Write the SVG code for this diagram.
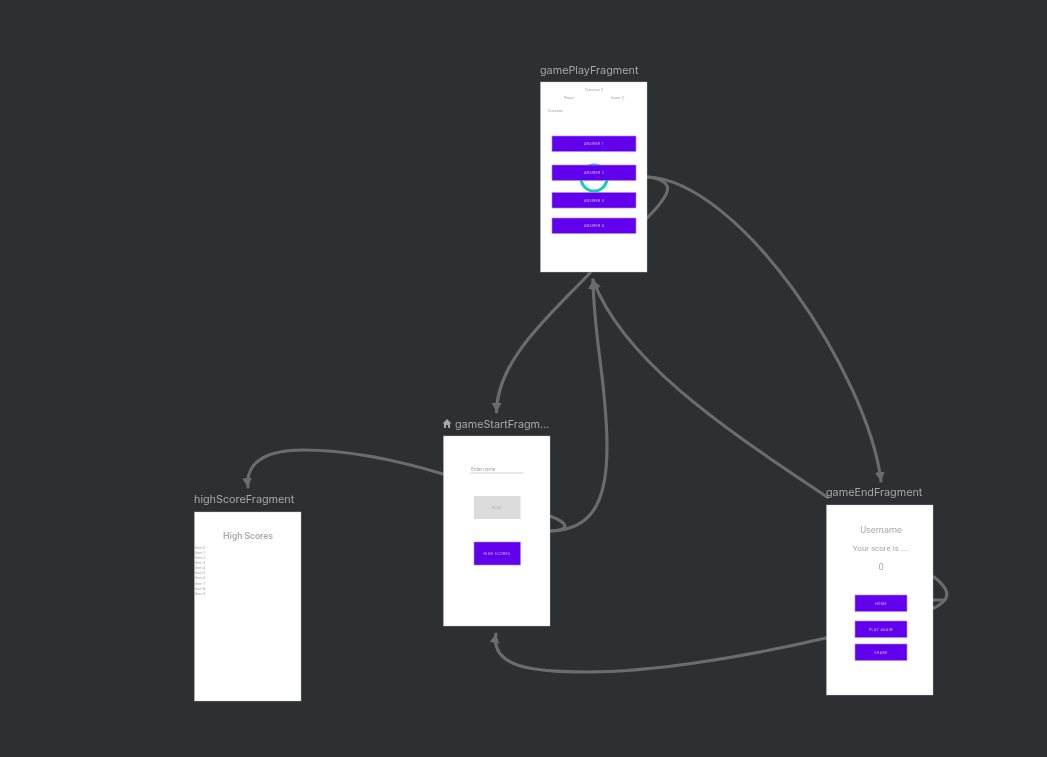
<svg xmlns="http://www.w3.org/2000/svg" width="1047" height="757" viewBox="0 0 1047 757">
<style>
.lbl{font:10.8px Inter,"Liberation Sans",sans-serif;fill:#a6a6a6}
.scr{fill:#fff;stroke:#c4c4c4;stroke-width:.4}
.btn{fill:#6200ee;stroke:#a78bf5;stroke-width:.6}
.bt{font:3.5px Roboto,"Liberation Sans",sans-serif;fill:#cfc0f8;text-anchor:middle;letter-spacing:.45px}
.t{font-family:Roboto,"Liberation Sans",sans-serif;fill:#a8a8a8}
.c{fill:none;stroke:#6c6c6c;stroke-width:3.100;stroke-linecap:round}
</style>
<defs>
<marker id="a" markerUnits="userSpaceOnUse" markerWidth="12" markerHeight="12" refX="9" refY="5" orient="auto"><path d="M0,0L9,5L0,10Z" fill="#6c6c6c"/></marker>
<filter id="b" filterUnits="userSpaceOnUse" x="0" y="0" width="1047" height="757"><feGaussianBlur stdDeviation=".5"/></filter>
<filter id="s" filterUnits="userSpaceOnUse" x="0" y="0" width="1047" height="757"><feGaussianBlur stdDeviation=".35"/></filter>
</defs>
<rect width="1047" height="757" fill="#2e2f31"/>
<g id="connectors" filter="url(#s)">
<path class="c" marker-end="url(#a)" d="M590,273C550,315 497,360 496.500,412"/>
<path class="c" marker-end="url(#a)" d="M550,531C590,530 607,505 607,447C607,385 594,340 593,280"/>
<path class="c" d="M550,516C560,520 567,524 564,528C561,530 556,531 550,531"/>
<path class="c" marker-end="url(#a)" d="M827,497C735,435 625,365 593,280"/>
<path class="c" marker-end="url(#a)" d="M647,177C740,180 868,375 881,481"/>
<path class="c" d="M647,177C660,178 670,183 667,192C664,200 655,210 647,218"/>
<path class="c" marker-end="url(#a)" d="M443,474C390,458 340,450 303,450C270,450 245,460 248,487"/>
<path class="c" marker-end="url(#a)" d="M826,638C740,658 650,672 587,672C535,672 490,668 496,634"/>
<path class="c" d="M934,577C943,584 949,592 946,598C943,603 938,606 934,608"/>
<path class="c" d="M934,600H945"/>
</g>
<g id="gamePlayFragment">
<text class="lbl" x="540" y="74" filter="url(#s)">gamePlayFragment</text>
<rect class="scr" x="540.500" y="82" width="106.500" height="190"/>
<g filter="url(#b)">
<circle cx="594" cy="178" r="13" fill="none" stroke="#19c8c0" stroke-width="3"/>
<text class="t" font-size="3.800" x="594" y="91" text-anchor="middle">Question 0</text>
<text class="t" font-size="3.800" x="569" y="99" text-anchor="middle">Player</text>
<text class="t" font-size="3.800" x="617.500" y="99" text-anchor="middle">Score: 0</text>
<text class="t" font-size="3.800" x="548" y="112">Question</text>
<rect class="btn" x="552" y="136" width="84" height="15.500"/><text class="bt" x="594" y="145">ANSWER 1</text>
<rect class="btn" x="552" y="165" width="84" height="15.500"/><text class="bt" x="594" y="174">ANSWER 2</text>
<rect class="btn" x="552" y="192.500" width="84" height="15.500"/><text class="bt" x="594" y="201.500">ANSWER 3</text>
<rect class="btn" x="552" y="218" width="84" height="15.500"/><text class="bt" x="594" y="227">ANSWER 4</text>
</g>
</g>
<g id="gameStartFragment">
<path d="M447,419L442.500,423.500H444V428H446V425H448V428H450V423.500H451.500Z" fill="#a6a6a6"/>
<text class="lbl" x="455" y="428" filter="url(#s)">gameStartFragm...</text>
<rect class="scr" x="443.500" y="436" width="106.500" height="190"/>
<g filter="url(#b)">
<text class="t" font-size="4.800" x="471" y="471">Enter name</text>
<path d="M470.500,473H523" stroke="#bbb" stroke-width=".7"/>
<rect x="474" y="496" width="46.500" height="23" fill="#dcdcdc"/>
<text class="bt" x="497" y="509" style="fill:#a8a8a8">PLAY</text>
<rect class="btn" x="474" y="542" width="46.500" height="23"/>
<text class="bt" x="497" y="555">HIGH SCORES</text>
</g>
</g>
<g id="highScoreFragment">
<text class="lbl" x="194" y="503" filter="url(#s)">highScoreFragment</text>
<rect class="scr" x="194.500" y="512" width="106.500" height="189"/>
<g filter="url(#b)">
<text class="t" font-size="9.200" font-weight="500" x="248" y="539" text-anchor="middle">High Scores</text>
<g font-size="3.700">
<text class="t" x="195" y="548.800">Item 0</text><text class="t" x="195" y="553.900">Item 1</text><text class="t" x="195" y="559">Item 2</text><text class="t" x="195" y="564.100">Item 3</text><text class="t" x="195" y="569.200">Item 4</text><text class="t" x="195" y="574.300">Item 5</text><text class="t" x="195" y="579.400">Item 6</text><text class="t" x="195" y="584.500">Item 7</text><text class="t" x="195" y="589.600">Item 8</text><text class="t" x="195" y="594.700">Item 9</text>
</g>
</g>
</g>
<g id="gameEndFragment">
<text class="lbl" x="826" y="496" filter="url(#s)">gameEndFragment</text>
<rect class="scr" x="826.500" y="505" width="106.500" height="190"/>
<g filter="url(#b)">
<text class="t" font-size="9.200" x="881" y="533" text-anchor="middle">Username</text>
<text class="t" font-size="8" x="881" y="551" text-anchor="middle">Your score is ....</text>
<text class="t" font-size="9.200" x="881" y="570" text-anchor="middle">0</text>
<rect class="btn" x="855" y="595" width="52" height="16.500"/><text class="bt" x="881" y="604.500">HOME</text>
<rect class="btn" x="855" y="621" width="52" height="16.500"/><text class="bt" x="881" y="630.500">PLAY AGAIN</text>
<rect class="btn" x="855" y="644" width="52" height="16.500"/><text class="bt" x="881" y="653.500">SHARE</text>
</g>
</g>
</svg>
